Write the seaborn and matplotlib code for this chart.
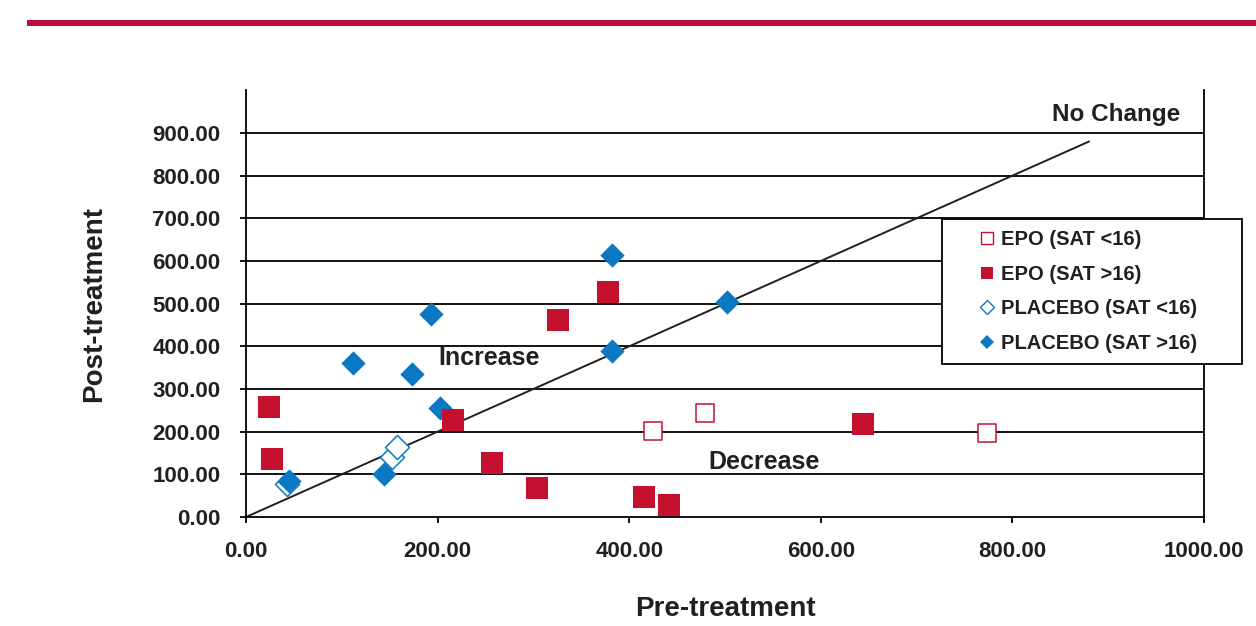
import matplotlib
matplotlib.use("Agg")
import matplotlib.pyplot as plt
from matplotlib.lines import Line2D
from matplotlib.patches import Rectangle
import pandas as pd
import seaborn as sns

# Pre- and post-treatment values by group
epo_low_pre = [425, 479, 774]
epo_low_post = [202, 243, 197]
epo_high_pre = [24, 27, 216, 257, 304, 326, 378, 415, 442, 644]
epo_high_post = [258, 136, 227, 127, 69, 462, 528, 48, 28, 219]
placebo_low_pre = [43, 152, 158]
placebo_low_post = [77, 140, 165]
placebo_high_pre = [45, 112, 144, 173, 193, 203, 382, 382, 502]
placebo_high_post = [85, 360, 100, 335, 475, 255, 390, 614, 505]

group_labels = ["EPO (SAT <16)", "EPO (SAT >16)",
                "PLACEBO (SAT <16)", "PLACEBO (SAT >16)"]
no_change_ends = [0, 880]
x_ticks = [0, 200, 400, 600, 800, 1000]
y_ticks = [0, 100, 200, 300, 400, 500, 600, 700, 800, 900]

RED = "#C3112F"
BLUE = "#0A78C2"
INK = "#231F20"

sns.set_theme(style="white")
plt.rcParams["font.family"] = ["Liberation Sans", "DejaVu Sans"]
plt.rcParams["font.weight"] = "bold"

df = pd.concat([
    pd.DataFrame({"pre": epo_low_pre, "post": epo_low_post, "group": group_labels[0]}),
    pd.DataFrame({"pre": epo_high_pre, "post": epo_high_post, "group": group_labels[1]}),
    pd.DataFrame({"pre": placebo_low_pre, "post": placebo_low_post, "group": group_labels[2]}),
    pd.DataFrame({"pre": placebo_high_pre, "post": placebo_high_post, "group": group_labels[3]}),
], ignore_index=True)

fig = plt.figure(figsize=(12.56, 6.26), dpi=100)
ax = fig.add_axes([246 / 1256, 1 - 517 / 626, 958 / 1256, 426.7 / 626])

# red rule at the top of the page
fig.add_artist(Rectangle((27 / 1256, 1 - 26 / 626), 1.0, 6 / 626,
                         transform=fig.transFigure, facecolor="#BE0E37",
                         edgecolor="none"))

# horizontal grid
for yv in y_ticks[1:]:
    ax.axhline(yv, color="black", lw=1.3, zorder=1)

# no-change diagonal
ax.plot(no_change_ends, no_change_ends, color=INK, lw=1.4, zorder=2)

# marker style per group: (marker, size, open?, colour)
styles = {
    group_labels[2]: ("D", 150, True, BLUE),
    group_labels[3]: ("D", 153, False, BLUE),
    group_labels[0]: ("s", 165, True, RED),
    group_labels[1]: ("s", 245, False, RED),
}
for z, (g, (mk, size, hollow, col)) in enumerate(styles.items()):
    sub = df[df["group"] == g]
    if hollow:
        sns.scatterplot(data=sub, x="pre", y="post", ax=ax, marker=mk, s=size,
                        color=col, facecolor="white", edgecolor=col,
                        linewidth=1.1, zorder=3 + z, legend=False)
    else:
        sns.scatterplot(data=sub, x="pre", y="post", ax=ax, marker=mk, s=size,
                        color=col, edgecolor=col, linewidth=0,
                        zorder=3 + z, legend=False)

ax.set_xlim(0, 1000)
ax.set_ylim(0, 1000)
ax.set_xticks(x_ticks)
ax.set_yticks(y_ticks)
ax.set_xticklabels([f"{v:.2f}" for v in x_ticks])
ax.set_yticklabels([f"{v:.2f}" for v in y_ticks])
ax.tick_params(axis="both", direction="out", length=4.3, width=1.3,
               color="black", labelsize=16, labelcolor=INK, pad=13)
ax.tick_params(axis="x", bottom=True)
ax.tick_params(axis="y", left=True, pad=14)
for lbl in ax.get_xticklabels() + ax.get_yticklabels():
    lbl.set_fontweight("bold")

for side in ["left", "right", "bottom"]:
    ax.spines[side].set_visible(True)
    ax.spines[side].set_color("black")
    ax.spines[side].set_linewidth(1.3)
ax.spines["top"].set_visible(False)

ax.set_xlabel("Pre-treatment", fontsize=20, fontweight="bold", color=INK)
ax.set_ylabel("Post-treatment", fontsize=20, fontweight="bold", color=INK)
ax.xaxis.set_label_coords(0.5, -0.185)
ax.yaxis.set_label_coords(-0.145, 0.5)

ax.text(254, 373, "Increase", fontsize=18, fontweight="bold", color=INK,
        ha="center", va="center", zorder=10)
ax.text(541, 130, "Decrease", fontsize=18, fontweight="bold", color=INK,
        ha="center", va="center", zorder=10)
ax.text(908, 944, "No Change", fontsize=17.5, fontweight="bold", color=INK,
        ha="center", va="center", zorder=10)

handles = [
    Line2D([], [], ls="none", marker="s", ms=8, mfc="white", mec=RED, mew=1),
    Line2D([], [], ls="none", marker="s", ms=8.5, mfc=RED, mec=RED, mew=0),
    Line2D([], [], ls="none", marker="D", ms=7, mfc="white", mec=BLUE, mew=1),
    Line2D([], [], ls="none", marker="D", ms=7, mfc=BLUE, mec=BLUE, mew=0),
]
leg = fig.legend(handles, group_labels, loc="upper left",
                 bbox_to_anchor=(942 / 1256, 1 - 361 / 626, 300 / 1256, 142 / 626),
                 bbox_transform=fig.transFigure, mode="expand", borderaxespad=0,
                 prop={"size": 14.5, "weight": "bold"}, frameon=True,
                 fancybox=False, framealpha=1, edgecolor="black",
                 borderpad=0.55, labelspacing=0.78, handlelength=3.4,
                 handletextpad=-1.0)
leg.get_frame().set_linewidth(1.3)
for t in leg.get_texts():
    t.set_color(INK)

fig.savefig("out.png", dpi=100)
